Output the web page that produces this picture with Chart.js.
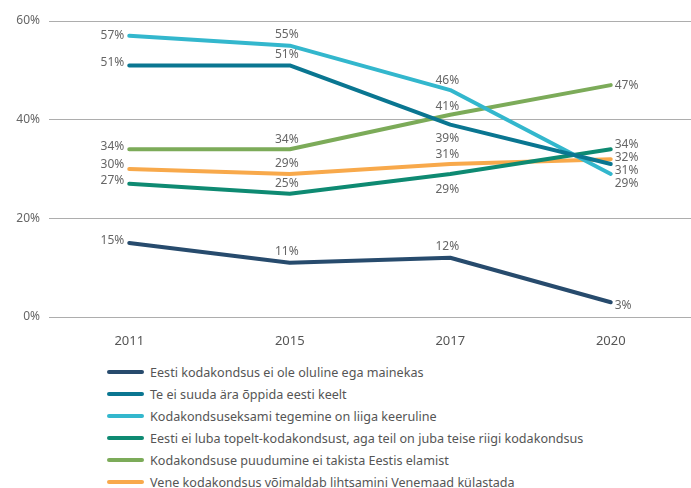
<!DOCTYPE html>
<html>
<head>
<meta charset="utf-8">
<script src="https://cdn.jsdelivr.net/npm/chart.js@4"></script>
<style>
  body { margin: 0; background: #fff; font-family: "Noto Sans", sans-serif; }
  #wrap { position: relative; width: 691px; height: 488px; }
  #chartBox { position: absolute; left: 0; top: 0; width: 691px; height: 355px; }
  #legend { position: absolute; left: 107px; top: 361px; }
  .row { display: flex; align-items: center; height: 22px; font-size: 12.6px; color: #555; white-space: nowrap; }
  .sw { width: 37px; height: 4px; border-radius: 2px; margin-right: 6px; }
</style>
</head>
<body>
<div id="wrap">
  <div id="chartBox"><canvas id="chart"></canvas></div>
  <div id="legend"></div>
</div>
<script>
    // data
    const years = ["2011", "2015", "2017", "2020"];
    const seriesNames = [
        "Eesti kodakondsus ei ole oluline ega mainekas",
        "Te ei suuda ära õppida eesti keelt",
        "Kodakondsuseksami tegemine on liiga keeruline",
        "Eesti ei luba topelt-kodakondsust, aga teil on juba teise riigi kodakondsus",
        "Kodakondsuse puudumine ei takista Eestis elamist",
        "Vene kodakondsus võimaldab lihtsamini Venemaad külastada"
    ];
    const notImportant = [15, 11, 12, 3];
    const cannotLearn = [51, 51, 39, 31];
    const examTooHard = [57, 55, 46, 29];
    const noDualCitizenship = [27, 25, 29, 34];
    const noObstacle = [34, 34, 41, 47];
    const russiaTravel = [30, 29, 31, 32];
    const yTicks = [0, 20, 40, 60];

    const seriesValues = [notImportant, cannotLearn, examTooHard, noDualCitizenship, noObstacle, russiaTravel];
    const colors = ["#274b6d", "#0a7691", "#33b7cd", "#0e8a72", "#7cab59", "#f8a94b"];

    // where each value label sits: side (l/t/b/r) and vertical shift
    const labelPos = [
        [["l", -2], ["t", -11], ["t", -11], ["r", 3]],
        [["l", -3], ["t", -11], ["b", 14], ["r", 7]],
        [["l", 0], ["t", -11], ["t", -9], ["r", 10]],
        [["l", -3], ["t", -10], ["b", 16], ["r", -5]],
        [["l", -3], ["t", -10], ["t", -8], ["r", 0]],
        [["l", -4], ["t", -10], ["t", -9], ["r", -2]]
    ];

    const valueLabels = {
        id: "valueLabels",
        afterDatasetsDraw(chart) {
            const ctx = chart.ctx;
            ctx.save();
            ctx.font = "12px 'Noto Sans'";
            ctx.fillStyle = "#666";
            ctx.textBaseline = "middle";
            chart.data.datasets.forEach((ds, i) => {
                chart.getDatasetMeta(i).data.forEach((pt, j) => {
                    const p = labelPos[i][j];
                    let x = pt.x;
                    if (p[0] === "l") { ctx.textAlign = "right"; x -= 5; }
                    else if (p[0] === "r") { ctx.textAlign = "left"; x += 4; }
                    else { ctx.textAlign = "center"; x -= 3; }
                    ctx.fillText(ds.data[j] + "%", x, pt.y + p[1]);
                });
            });
            ctx.restore();
        }
    };

    const chart = new Chart(document.getElementById("chart"), {
        type: "line",
        data: {
            labels: years,
            datasets: seriesValues.map((vals, i) => ({
                label: seriesNames[i],
                data: vals,
                borderColor: colors[i],
                backgroundColor: colors[i],
                borderWidth: 4,
                borderCapStyle: "round",
                borderJoinStyle: "round",
                pointRadius: 0,
                tension: 0
            }))
        },
        options: {
            responsive: true,
            maintainAspectRatio: false,
            animation: false,
            layout: { padding: { top: 21, right: 0, left: 0, bottom: 0 } },
            plugins: {
                legend: { display: false },
                tooltip: { enabled: false }
            },
            scales: {
                x: {
                    offset: true,
                    grid: { display: false },
                    border: { display: false },
                    ticks: { color: "#555", font: { family: "Noto Sans", size: 13 }, padding: 8 },
                    afterFit(scale) { scale.height = 38; }
                },
                y: {
                    min: 0,
                    max: 60,
                    afterBuildTicks(scale) { scale.ticks = yTicks.map(v => ({ value: v })); },
                    grid: { color: "#adadad", lineWidth: 1, drawTicks: false },
                    border: { display: false },
                    ticks: {
                        color: "#666",
                        font: { family: "Noto Sans", size: 12 },
                        padding: 9,
                        callback: v => v + "%"
                    },
                    afterFit(scale) { scale.width = 49; }
                }
            }
        },
        plugins: [valueLabels]
    });

    // legend as html, one entry per row
    const legend = document.getElementById("legend");
    seriesNames.forEach((name, i) => {
        const row = document.createElement("div");
        row.className = "row";
        row.innerHTML = '<span class="sw" style="background:' + colors[i] + '"></span><span>' + name + '</span>';
        legend.appendChild(row);
    });
</script>
</body>
</html>
